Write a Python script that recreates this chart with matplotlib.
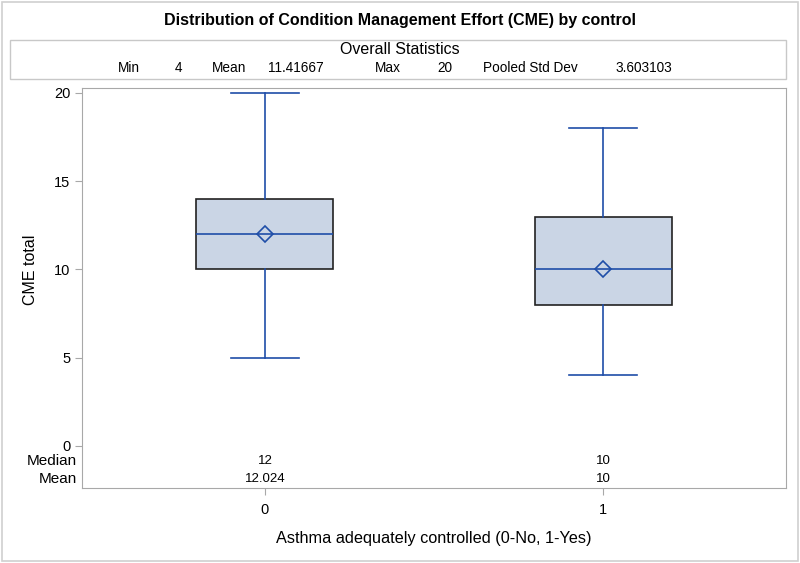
import matplotlib
matplotlib.use("Agg")
import matplotlib.pyplot as plt
from matplotlib.patches import Rectangle

plt.rcParams['font.family'] = ['Liberation Sans', 'DejaVu Sans']

# data
groups = ["0", "1"]
mins = [5, 4]
q1s = [10, 8]
medians = [12, 10]
q3s = [14, 13]
maxs = [20, 18]
means = [12.024, 10]
mean_labels = ["12.024", "10"]
median_labels = ["12", "10"]

stat_names = ["Min", "Mean", "Max", "Pooled Std Dev"]
stat_values = ["4", "11.41667", "20", "3.603103"]

blue = "#1f4ea8"
fill = "#cad5e5"
gray = "#a8a8a8"

fig = plt.figure(figsize=(8, 5.63), dpi=100)

# outer frame of the whole graph
fig.patches.append(Rectangle((0.002, 0.003), 0.995, 0.994, transform=fig.transFigure,
                             fill=False, edgecolor="#d0d0d0", lw=1.2))

fig.text(0.5, 1 - 20 / 563, "Distribution of Condition Management Effort (CME) by control",
         ha="center", va="center", fontsize=11.5, fontweight="bold")

# overall statistics box
fig.patches.append(Rectangle((10 / 800, 1 - 79 / 563), 776 / 800, 39 / 563,
                             transform=fig.transFigure, fill=False, edgecolor="#c8c8c8", lw=1))
fig.text(0.5, 1 - 49 / 563, "Overall Statistics", ha="center", va="center", fontsize=11.5)
name_x = [118, 212, 375, 483]
val_x = [175, 268, 437, 615]
for nm, v, nx, vx in zip(stat_names, stat_values, name_x, val_x):
    fig.text(nx / 800, 1 - 68 / 563, nm, ha="left", va="center", fontsize=9.8)
    fig.text(vx / 800, 1 - 68 / 563, v, ha="left", va="center", fontsize=9.8)

ax = fig.add_axes([82 / 800, 75 / 563, 704 / 800, 400 / 563])

stats = []
for i in range(len(groups)):
    stats.append(dict(med=medians[i], q1=q1s[i], q3=q3s[i], whislo=mins[i],
                      whishi=maxs[i], mean=means[i], fliers=[], label=groups[i]))

ax.bxp(stats, positions=range(len(groups)), widths=0.405, patch_artist=True,
       showmeans=True, capwidths=0.2,
       boxprops=dict(facecolor=fill, edgecolor="#222222", lw=1.2),
       whiskerprops=dict(color=blue, lw=1.2),
       capprops=dict(color=blue, lw=1.2),
       medianprops=dict(color=blue, lw=1.2),
       meanprops=dict(marker="D", markerfacecolor="none", markeredgecolor=blue,
                      markersize=8, markeredgewidth=1.2))

ax.set_xlim(-0.541, 1.541)
ax.set_ylim(-2.38, 20.28)
ax.set_yticks([0, 5, 10, 15, 20])
ax.set_xticks(range(len(groups)))
ax.set_xticklabels(groups)

for s in ax.spines.values():
    s.set_color(gray)
ax.tick_params(colors=gray, labelcolor="black", labelsize=10.5, length=5)
ax.tick_params(axis="x", pad=6)

# median / mean inset table
ax.text(-0.555, -0.85, "Median", ha="right", va="center", fontsize=11, clip_on=False)
ax.text(-0.555, -1.87, "Mean", ha="right", va="center", fontsize=11, clip_on=False)
for i in range(len(groups)):
    ax.text(i, -0.85, median_labels[i], ha="center", va="center", fontsize=9.5)
    ax.text(i, -1.87, mean_labels[i], ha="center", va="center", fontsize=9.5)

ax.set_ylabel("CME total", fontsize=11.5)
ax.yaxis.set_label_coords(-0.062, 0.545)
ax.set_xlabel("Asthma adequately controlled (0-No, 1-Yes)", fontsize=11.7)
ax.xaxis.set_label_coords(0.5, -0.108)

fig.savefig("out.png", dpi=100)
